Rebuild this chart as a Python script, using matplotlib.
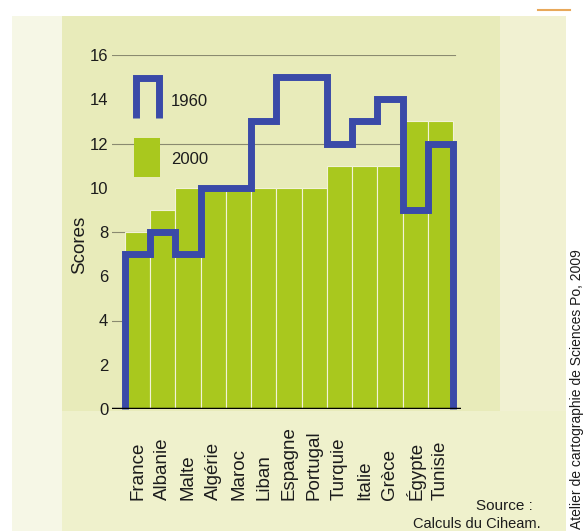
import numpy as np
import matplotlib
matplotlib.use('Agg')
import matplotlib.pyplot as plt
import matplotlib.transforms as mtransforms
from matplotlib.patches import Rectangle

# data
pays = ['France', 'Albanie', 'Malte', 'Algérie', 'Maroc', 'Liban', 'Espagne',
        'Portugal', 'Turquie', 'Italie', 'Grèce', 'Égypte', 'Tunisie']
scores_2000 = [8, 9, 10, 10, 10, 10, 10, 10, 11, 11, 11, 13, 13]
scores_1960 = [7, 8, 7, 10, 10, 13, 15, 15, 12, 13, 14, 9, 12]
yticks = [0, 2, 4, 6, 8, 10, 12, 14, 16]
grid_vals = [4, 8, 12, 16]

green = '#a9c81e'
blue = '#3a4aa8'
txt = '#1c1c1c'
plt.rcParams['font.family'] = ['Liberation Sans', 'DejaVu Sans']

W, H = 586, 531
fig = plt.figure(figsize=(W / 100, H / 100), dpi=100)
fig.patch.set_facecolor('white')

# background panels (pixel coords -> figure fraction)
def px_rect(x0, y0, x1, y1, color):
    fig.patches.append(Rectangle((x0 / W, 1 - y1 / H), (x1 - x0) / W, (y1 - y0) / H,
                                 transform=fig.transFigure, color=color, zorder=-5, lw=0))

px_rect(12, 16, 566, 531, '#eff1cc')
px_rect(12, 16, 62, 531, '#f6f7e6')
px_rect(62, 16, 500, 411, '#e8ebba')
px_rect(500, 16, 566, 411, '#f1f1d2')
fig.add_artist(plt.Line2D([538 / W, 570 / W], [1 - 10 / H, 1 - 10 / H],
                          transform=fig.transFigure, color='#e8a85a', lw=1.5))

ax = fig.add_axes([112.4 / W, 1 - 409 / H, 348.2 / W, 354 / H])
ax.set_xlim(-1.0, 12.8)
ax.set_ylim(0, 16)
ax.patch.set_alpha(0)
for s in ax.spines.values():
    s.set_visible(False)

x = np.arange(len(pays))
for g in grid_vals:
    ax.axhline(g, xmin=0, xmax=0.985, color='#8a8a70', lw=0.8, zorder=1)
ax.bar(x, scores_2000, width=1.0, color=green, edgecolor='#f2f2d8', linewidth=0.8, zorder=2)
edges = np.arange(len(pays) + 1) - 0.5
ax.stairs(scores_1960, edges, baseline=0, color=blue, lw=5, zorder=3, clip_on=False)
ax.axhline(0, color='black', lw=2.5, zorder=4)

ax.set_yticks(yticks)
ax.set_yticklabels([str(v) for v in yticks], fontsize=12, color=txt)
ax.tick_params(axis='y', length=0, pad=3)
ax.set_xticks([])

# country names, bottom-aligned like in the original
trans = mtransforms.blended_transform_factory(ax.transData, fig.transFigure)
for xi, p in zip(x, pays):
    ax.text(xi, 1 - 500 / H, p, transform=trans, rotation=90, ha='center', va='bottom',
            fontsize=13.5, color=txt, clip_on=False)

# legend and notes drawn by hand
leg = fig.add_axes([0, 0, 1, 1])
leg.set_xlim(0, W)
leg.set_ylim(H, 0)
leg.axis('off')
leg.text(80, 245, 'Scores', fontsize=13.5, rotation=90, ha='center', va='center', color=txt)
leg.plot([136, 136, 159, 159], [118, 78, 78, 118], color=blue, lw=5,
         solid_joinstyle='miter', solid_capstyle='butt')
leg.text(171, 101, '1960', fontsize=12, va='center', ha='left', color=txt)
leg.add_patch(Rectangle((134, 138), 26, 39, color=green, lw=0))
leg.text(171, 160, '2000', fontsize=12, va='center', ha='left', color=txt)

leg.text(533, 506, 'Source :', fontsize=11, ha='right', va='center', color=txt)
leg.text(541, 524, 'Calculs du Ciheam.', fontsize=10.5, ha='right', va='center', color=txt)
leg.text(577, 529, 'Atelier de cartographie de Sciences Po, 2009', fontsize=10, rotation=90,
         ha='center', va='bottom', color=txt)

fig.savefig('out.png', dpi=100)
